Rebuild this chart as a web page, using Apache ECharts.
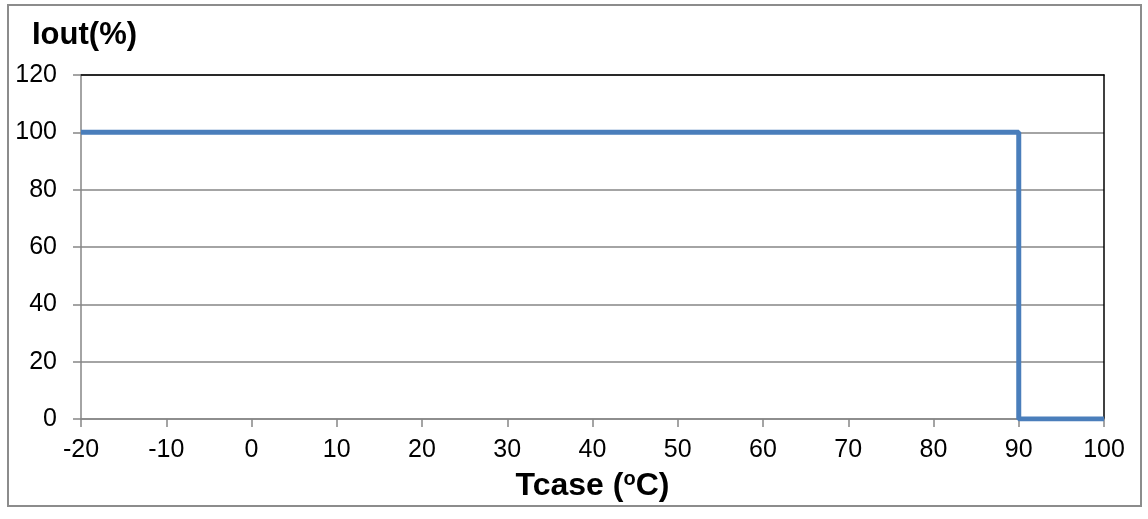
<!DOCTYPE html>
<html><head><meta charset="utf-8">
<script src="https://cdn.jsdelivr.net/npm/echarts@6/dist/echarts.min.js"></script>
<style>html,body{margin:0;padding:0;background:#fff}#c{width:1148px;height:519px}</style>
</head><body><div id="c"></div>
<script>
const tcase = [-20, 90, 90, 100];
const iout = [100, 100, 0, 0];
const xTicks = {min: -20, max: 100, interval: 10};
const yTicks = {min: 0, max: 120, interval: 20};

const chart = echarts.init(document.getElementById('c'));
const font = 'Liberation Sans, Arial, sans-serif';
const gray = '#868686';
chart.setOption({
  animation: false,
  backgroundColor: '#fff',
  title: {
    text: 'Iout(%)', left: 27, top: 15,
    textStyle: {fontFamily: font, fontSize: 31, fontWeight: 'bold', color: '#000'}
  },
  graphic: [{
    type: 'rect', shape: {x: 8, y: 5, width: 1133, height: 501},
    style: {fill: 'none', stroke: '#8c8c8c', lineWidth: 2}, silent: true, z: -1
  }],
  grid: {left: 81, right: 44, top: 75, bottom: 100},
  xAxis: [{
    type: 'value', min: xTicks.min, max: xTicks.max, interval: xTicks.interval,
    axisLine: {onZero: false, lineStyle: {color: gray, width: 1.5}},
    axisTick: {show: true, length: 8, lineStyle: {color: gray, width: 1.5}},
    splitLine: {show: false},
    axisLabel: {fontFamily: font, fontSize: 25, color: '#000', margin: 19},
    name: '{a|Tcase (}{s|o}{a|C)}', nameLocation: 'middle', nameGap: 50,
    nameTextStyle: {
      rich: {
        a: {fontFamily: font, fontSize: 32, fontWeight: 'bold', color: '#000', lineHeight: 34},
        s: {fontFamily: font, fontSize: 20, fontWeight: 'bold', color: '#000', verticalAlign: 'top', lineHeight: 34, padding: [0, 0, 12, 0]}
      }
    }
  }, {
    type: 'value', position: 'top', min: xTicks.min, max: xTicks.max,
    axisLine: {show: true, onZero: false, lineStyle: {color: '#000', width: 1.5}},
    axisTick: {show: false}, axisLabel: {show: false}, splitLine: {show: false}
  }],
  yAxis: [{
    type: 'value', min: yTicks.min, max: yTicks.max, interval: yTicks.interval,
    axisLine: {show: true, onZero: false, lineStyle: {color: gray, width: 1.5}},
    axisTick: {show: true, length: 8, lineStyle: {color: gray, width: 1.5}},
    splitLine: {show: true, lineStyle: {color: gray, width: 1.5}},
    axisLabel: {fontFamily: font, fontSize: 25, color: '#000', margin: 24}
  }, {
    type: 'value', position: 'right', min: yTicks.min, max: yTicks.max,
    axisLine: {show: true, onZero: false, lineStyle: {color: '#000', width: 1.5}},
    axisTick: {show: false}, axisLabel: {show: false}, splitLine: {show: false}
  }],
  series: [{
    type: 'line', xAxisIndex: 0, yAxisIndex: 0,
    data: tcase.map((x, i) => [x, iout[i]]),
    showSymbol: false, symbol: 'none',
    lineStyle: {color: '#4a7ebb', width: 5},
    z: 5
  }]
});
</script></body></html>
